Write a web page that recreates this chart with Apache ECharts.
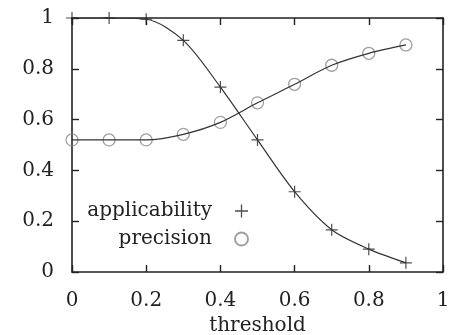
<!DOCTYPE html>
<html>
<head>
<meta charset="utf-8">
<script src="https://cdn.jsdelivr.net/npm/echarts@6/dist/echarts.min.js"></script>
<style>
  html, body { margin: 0; padding: 0; background: #fff; }
  #chart { width: 459px; height: 335px; }
</style>
</head>
<body>
<div id="chart"></div>
<script>
const thresholds = [0, 0.1, 0.2, 0.3, 0.4, 0.5, 0.6, 0.7, 0.8, 0.9]
const applicability = [1, 1, 0.995, 0.912, 0.728, 0.52, 0.316, 0.166, 0.09, 0.036]
const precision = [0.52, 0.52, 0.52, 0.542, 0.589, 0.666, 0.739, 0.814, 0.861, 0.894]

const font = 'DejaVu Serif'
const ink = '#222'
const plusPath = 'path://M5.4,0H6.6V5.4H12V6.6H6.6V12H5.4V6.6H0V5.4H5.4Z'

function pairs(ys) {
  return thresholds.map((x, i) => [x, ys[i]])
}

const chart = echarts.init(document.getElementById('chart'), null, { renderer: 'canvas' })

const frameAxis = {
  min: 0,
  max: 1,
  interval: 0.2,
  axisLine: { show: true, onZero: false, lineStyle: { color: ink, width: 1.6 } },
  axisTick: { show: true, inside: true, length: 7, lineStyle: { color: ink, width: 1.4 } },
  splitLine: { show: false }
}

const option = {
  animation: false,
  backgroundColor: '#fff',
  grid: { left: 72, right: 16, top: 18, bottom: 63, outerBoundsMode: 'none', containLabel: false },
  xAxis: [
    {
      ...frameAxis,
      type: 'value',
      position: 'bottom',
      name: 'threshold',
      nameLocation: 'middle',
      nameGap: 42,
      nameTextStyle: { fontFamily: font, fontSize: 20, color: ink },
      axisLabel: { margin: 19, fontFamily: font, fontSize: 20, color: ink }
    },
    {
      ...frameAxis,
      type: 'value',
      position: 'top',
      axisLabel: { show: false }
    }
  ],
  yAxis: [
    {
      ...frameAxis,
      type: 'value',
      position: 'left',
      axisLabel: { margin: 18, fontFamily: font, fontSize: 20, color: ink }
    },
    {
      ...frameAxis,
      type: 'value',
      position: 'right',
      axisLabel: { show: false }
    }
  ],
  legend: {
    orient: 'vertical',
    align: 'right',
    right: 459 - 254,
    top: 196,
    itemWidth: 13,
    itemHeight: 13,
    itemGap: 8,
    textStyle: { fontFamily: font, fontSize: 20, color: ink, padding: [0, 18, 0, 0], lineHeight: 20 },
    data: [
      { name: 'applicability', icon: plusPath },
      { name: 'precision', icon: 'circle' }
    ]
  },
  series: [
    {
      name: 'applicability-curve',
      type: 'line',
      data: pairs(applicability),
      smooth: 0.3,
      showSymbol: false,
      silent: true,
      lineStyle: { color: '#333', width: 1.2 }
    },
    {
      name: 'precision-curve',
      type: 'line',
      data: pairs(precision),
      smooth: 0.3,
      showSymbol: false,
      silent: true,
      lineStyle: { color: '#333', width: 1.2 }
    },
    {
      name: 'applicability',
      type: 'scatter',
      data: pairs(applicability),
      symbol: plusPath,
      symbolSize: 12,
      itemStyle: { color: '#222' }
    },
    {
      name: 'precision',
      type: 'scatter',
      data: pairs(precision),
      symbol: 'circle',
      symbolSize: 12,
      itemStyle: { color: 'rgba(0,0,0,0)', borderColor: '#888', borderWidth: 1.3 }
    }
  ]
}

chart.setOption(option)
</script>
</body>
</html>
